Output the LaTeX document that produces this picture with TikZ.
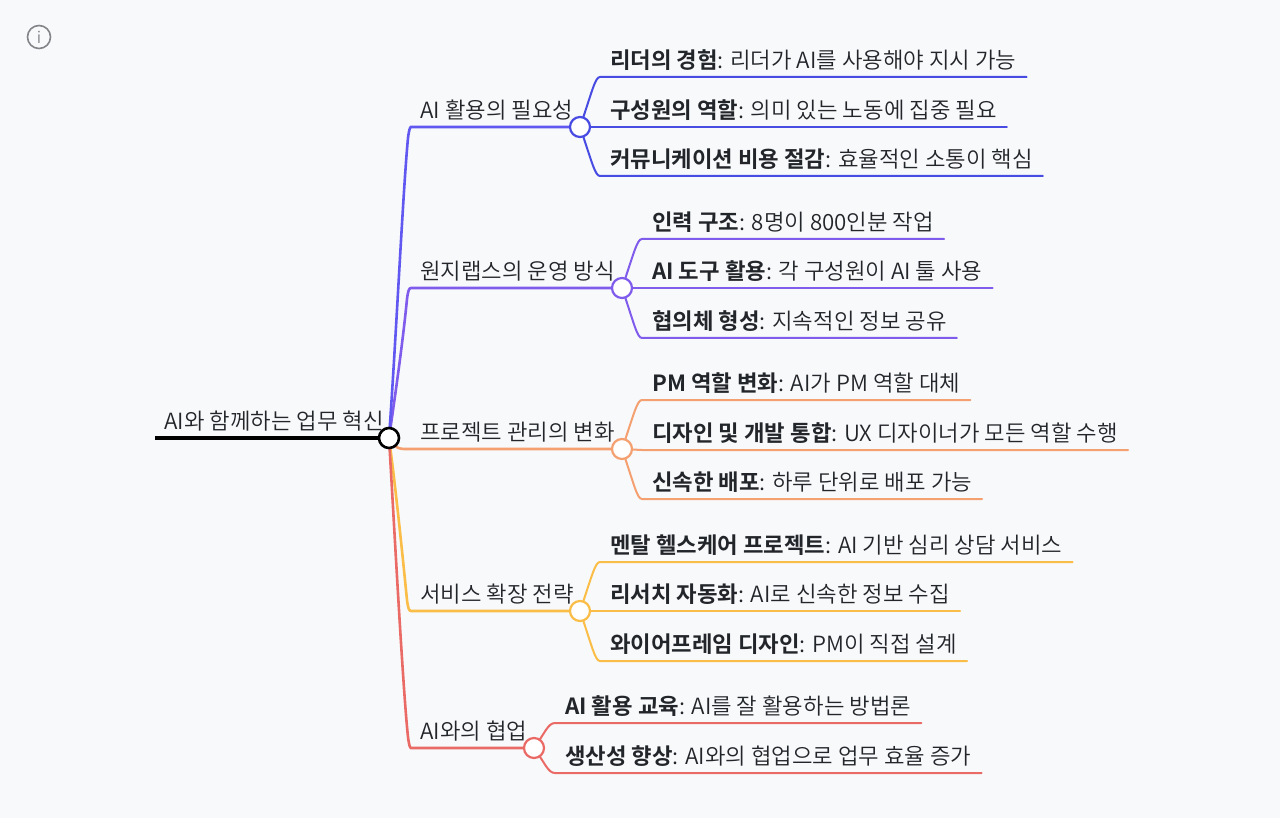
\documentclass[tikz,border=0pt]{standalone}
\usepackage{fontspec}
\setmainfont{Noto Sans CJK KR}[BoldFont={Noto Sans CJK KR Bold},UprightFont={Noto Sans CJK KR DemiLight}]
\usetikzlibrary{arrows.meta,positioning,calc}
\definecolor{mapbg}{RGB}{248,249,251}
\definecolor{mapink}{RGB}{34,37,41}
\definecolor{mapblue}{RGB}{72,76,226}
\definecolor{mapviolet}{RGB}{96,88,240}
\definecolor{mappurple}{RGB}{128,92,236}
\definecolor{maporange}{RGB}{244,160,112}
\definecolor{mapyellow}{RGB}{250,190,72}
\definecolor{mapred}{RGB}{234,106,102}
\definecolor{icongray}{RGB}{130,132,136}
\tikzset{
  rootbox/.style={anchor=south west, inner xsep=9pt, inner ysep=4.5pt, text height=16pt, text depth=4pt,
               font=\fontsize{22.3}{26}\selectfont, text=mapink},
  leafbox/.style={anchor=south west, inner xsep=10pt, inner ysep=4.5pt, text height=16pt, text depth=4pt,
               font=\fontsize{22.3}{26}\selectfont, text=mapink},
  joint/.style={circle, draw=#1, fill=white, line width=2.2pt, minimum size=20pt, inner sep=0pt},
  trunk/.style={line width=2.6pt, draw=#1, line cap=round},
  twig/.style={line width=2pt, draw=#1, line cap=round},
}
\begin{document}
\begin{tikzpicture}[x=1pt, y=-1pt]
  \useasboundingbox[fill=mapbg] (0,0) rectangle (1280,818);
  \node[circle, draw=icongray, line width=1.6pt, minimum size=23pt, inner sep=0pt, text=icongray,
        font=\fontsize{16}{16}\selectfont] (info) at (39,37) {i};

  % root
  \coordinate (start) at (155,438);
  \coordinate (hub) at (389,438);
  \node[rootbox] (title) at (start) {AI와 함께하는 업무 혁신};

  % branch labels
  \node[rootbox] (ba) at (411,127) {AI 활용의 필요성};
  \node[rootbox] (bb) at (411,288) {원지랩스의 운영 방식};
  \node[rootbox] (bc) at (411,449) {프로젝트 관리의 변화};
  \node[rootbox] (bd) at (411,611) {서비스 확장 전략};
  \node[rootbox] (be) at (411,748) {AI와의 협업};

  % joints sit on the branch lines
  \coordinate (ja) at (580,127);
  \coordinate (jb) at (622,288);
  \coordinate (jc) at (622,449);
  \coordinate (jd) at (580,611);
  \coordinate (je) at (534,748);

  % leaves
  \node[leafbox] (a1) at (600,77) {\textbf{리더의 경험}: 리더가 AI를 사용해야 지시 가능};
  \node[leafbox] (a2) at (600,127) {\textbf{구성원의 역할}: 의미 있는 노동에 집중 필요};
  \node[leafbox] (a3) at (600,176) {\textbf{커뮤니케이션 비용 절감}: 효율적인 소통이 핵심};
  \node[leafbox] (b1) at (642,239) {\textbf{인력 구조}: 8명이 800인분 작업};
  \node[leafbox] (b2) at (642,288) {\textbf{AI 도구 활용}: 각 구성원이 AI 툴 사용};
  \node[leafbox] (b3) at (642,338) {\textbf{협의체 형성}: 지속적인 정보 공유};
  \node[leafbox] (c1) at (642,400) {\textbf{PM 역할 변화}: AI가 PM 역할 대체};
  \node[leafbox] (c2) at (642,450) {\textbf{디자인 및 개발 통합}: UX 디자이너가 모든 역할 수행};
  \node[leafbox] (c3) at (642,499) {\textbf{신속한 배포}: 하루 단위로 배포 가능};
  \node[leafbox] (d1) at (600,562) {\textbf{멘탈 헬스케어 프로젝트}: AI 기반 심리 상담 서비스};
  \node[leafbox] (d2) at (600,611) {\textbf{리서치 자동화}: AI로 신속한 정보 수집};
  \node[leafbox] (d3) at (600,661) {\textbf{와이어프레임 디자인}: PM이 직접 설계};
  \node[leafbox] (e1) at (555,723) {\textbf{AI 활용 교육}: AI를 잘 활용하는 방법론};
  \node[leafbox] (e2) at (555,773) {\textbf{생산성 향상}: AI와의 협업으로 업무 효율 증가};

  % trunks
  \draw[trunk=mapyellow] (hub) .. controls (396,490) and (403,560) .. (407,600) .. controls (408,608) and (409,611) .. (bd.south west) -- (jd);
  \draw[trunk=mapred] (hub) .. controls (395,540) and (403,690) .. (408,737) .. controls (409,745) and (410,748) .. (be.south west) -- (je);
  \draw[trunk=maporange] (hub) .. controls (396,450) and (400,449) .. (bc.south west) -- (jc);
  \draw[trunk=mappurple] (hub) .. controls (396,390) and (403,340) .. (407,299) .. controls (408,291) and (409,288) .. (bb.south west) -- (jb);
  \draw[trunk=mapviolet] (hub) .. controls (396,340) and (403,190) .. (408,138) .. controls (409,130) and (410,127) .. (ba.south west) -- (ja);

  % twigs
  \draw[twig=mapblue] (ja) .. controls (592,92) and (595,77) .. (a1.south west) -- (a1.south east);
  \draw[twig=mapblue] (ja) -- (a2.south west) -- (a2.south east);
  \draw[twig=mapblue] (ja) .. controls (592,162) and (595,176) .. (a3.south west) -- (a3.south east);
  \draw[twig=mappurple] (jb) .. controls (634,253) and (637,239) .. (b1.south west) -- (b1.south east);
  \draw[twig=mappurple] (jb) -- (b2.south west) -- (b2.south east);
  \draw[twig=mappurple] (jb) .. controls (634,323) and (637,338) .. (b3.south west) -- (b3.south east);
  \draw[twig=maporange] (jc) .. controls (634,414) and (637,400) .. (c1.south west) -- (c1.south east);
  \draw[twig=maporange] (jc) -- (c2.south west) -- (c2.south east);
  \draw[twig=maporange] (jc) .. controls (634,484) and (637,499) .. (c3.south west) -- (c3.south east);
  \draw[twig=mapyellow] (jd) .. controls (592,576) and (595,562) .. (d1.south west) -- (d1.south east);
  \draw[twig=mapyellow] (jd) -- (d2.south west) -- (d2.south east);
  \draw[twig=mapyellow] (jd) .. controls (592,646) and (595,661) .. (d3.south west) -- (d3.south east);
  \draw[twig=mapred] (je) .. controls (545,733) and (548,723) .. (e1.south west) -- (e1.south east);
  \draw[twig=mapred] (je) .. controls (545,763) and (548,773) .. (e2.south west) -- (e2.south east);

  \draw[line width=4pt, draw=black] (start) -- (hub);
  \node[joint=mapblue] (na) at (ja) {};
  \node[joint=mappurple] (nb) at (jb) {};
  \node[joint=maporange] (nc) at (jc) {};
  \node[joint=mapyellow] (nd) at (jd) {};
  \node[joint=mapred] (ne) at (je) {};
  \node[joint=black, line width=2.6pt] (nhub) at (hub) {};
\end{tikzpicture}
\end{document}
